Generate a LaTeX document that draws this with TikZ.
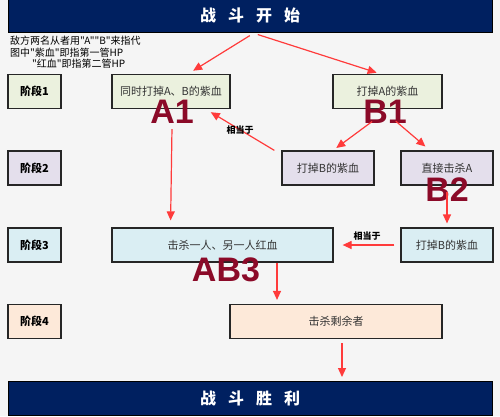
\documentclass[tikz,border=0pt]{standalone}
\usepackage{fontspec}
\setmainfont{Noto Sans CJK SC}[Ligatures=TeXOff]
\newfontfamily\tagfont{Liberation Sans}
\usetikzlibrary{arrows.meta,positioning}
\definecolor{navy}{HTML}{002060}
\definecolor{stageone}{HTML}{EBF1DE}
\definecolor{stagetwo}{HTML}{E4DFEC}
\definecolor{stagethree}{HTML}{DAEEF3}
\definecolor{stagefour}{HTML}{FDE9D9}
\definecolor{arrowred}{HTML}{FF3B3B}
\definecolor{tagred}{HTML}{8B0A28}
\definecolor{paper}{HTML}{F5F5F5}
\begin{document}
\begin{tikzpicture}[x=1pt,y=-1pt,
  banner/.style={draw=black,fill=navy,text=white,line width=1pt,
    minimum width=484pt,minimum height=34pt,font=\fontsize{16}{16}\bfseries},
  stage/.style={draw=black!85,line width=1.2pt,minimum width=53pt,
    minimum height=34pt,font=\fontsize{11}{11}\bfseries},
  box/.style={draw=black!85,line width=1.2pt,minimum height=34pt,
    text=black!80,font=\fontsize{11}{11}\selectfont},
  tag/.style={text=tagred,font=\tagfont\fontsize{34}{34}\bfseries},
  note/.style={anchor=west,inner sep=0pt,font=\fontsize{10}{10}\selectfont},
  same/.style={font=\fontsize{9}{9}\bfseries},
  hit/.style={draw=arrowred,line width=1.2pt,-{Triangle[length=9pt,width=8pt]}}]
  \fill[paper] (0,0) rectangle (500,416);
  \useasboundingbox (0,0) rectangle (500,416);

  % banners
  \node[banner] (begin) at (250,15.5) {战\hspace{0.75em}斗\hspace{0.75em}开\hspace{0.75em}始};
  \node[banner] (win) at (250,398.5) {战\hspace{0.75em}斗\hspace{0.75em}胜\hspace{0.75em}利};

  % notes
  \node[note] (n1) at (10,41) {敌方两名从者用"A""B"来指代};
  \node[note] (n2) at (10,53) {图中"紫血"即指第一管HP};
  \node[note] (n3) at (32,64) {"红血"即指第二管HP};

  % stages
  \node[stage,fill=stageone] (s1) at (34.5,91.5) {阶段1};
  \node[stage,fill=stagetwo] (s2) at (34.5,168) {阶段2};
  \node[stage,fill=stagethree] (s3) at (34.5,245) {阶段3};
  \node[stage,fill=stagefour] (s4) at (34.5,321.5) {阶段4};

  % moves
  \node[box,fill=stageone,minimum width=118pt] (a1) at (171,91.5) {同时打掉A、B的紫血};
  \node[box,fill=stageone,minimum width=109pt] (b1) at (387.5,91.5) {打掉A的紫血};
  \node[box,fill=stagetwo,minimum width=92pt] (b2l) at (328,168) {打掉B的紫血};
  \node[box,fill=stagetwo,minimum width=92pt] (b2r) at (447,168) {直接击杀A};
  \node[box,fill=stagethree,minimum width=221pt] (ab3) at (222.5,245) {击杀一人、另一人红血};
  \node[box,fill=stagethree,minimum width=92pt] (b3) at (447,245) {打掉B的紫血};
  \node[box,fill=stagefour,minimum width=212pt] (fin) at (336,321.5) {击杀剩余者};

  % tags
  \node[tag] (la1) at (172,112) {A1};
  \node[tag] (lb1) at (385,112) {B1};
  \node[tag] (lb2) at (447,190) {B2};
  \node[tag] (lab3) at (226,270) {AB3};

  % arrows
  \draw[hit,shorten <=5pt,shorten >=6pt] ([xshift=4pt]begin.south) -- ([xshift=17pt]a1.north);
  \draw[hit,shorten <=5pt,shorten >=4pt] ([xshift=3pt]begin.south) -- ([xshift=-7pt]b1.north);
  \draw[hit,shorten >=6pt] ([xshift=-7pt]b2l.north west) -- ([xshift=-25pt]a1.south east)
    node[same,midway] {相当于};
  \draw[hit,shorten <=16pt,shorten >=4pt] (lb1.center) -- ([xshift=5pt]b2l.north);
  \draw[hit,shorten <=14pt,shorten >=6pt] (lb1.center) -- ([xshift=-17pt]b2r.north);
  \draw[hit,shorten <=2pt,shorten >=7pt] (la1.south) -- ([xshift=-52pt]ab3.north);
  \draw[hit,shorten <=2pt,shorten >=4pt] (lb2.center) -- (b3.north);
  \draw[hit,shorten <=6pt,shorten >=9pt] (b3.west) -- (ab3.east)
    node[same,midway,above=1pt] {相当于};
  \draw[hit,shorten >=4pt] ([xshift=54.5pt]ab3.south) -- ([xshift=-59pt]fin.north);
  \draw[hit,shorten <=4pt,shorten >=4pt] ([xshift=6pt]fin.south) -- ([xshift=92pt]win.north);
\end{tikzpicture}
\end{document}
